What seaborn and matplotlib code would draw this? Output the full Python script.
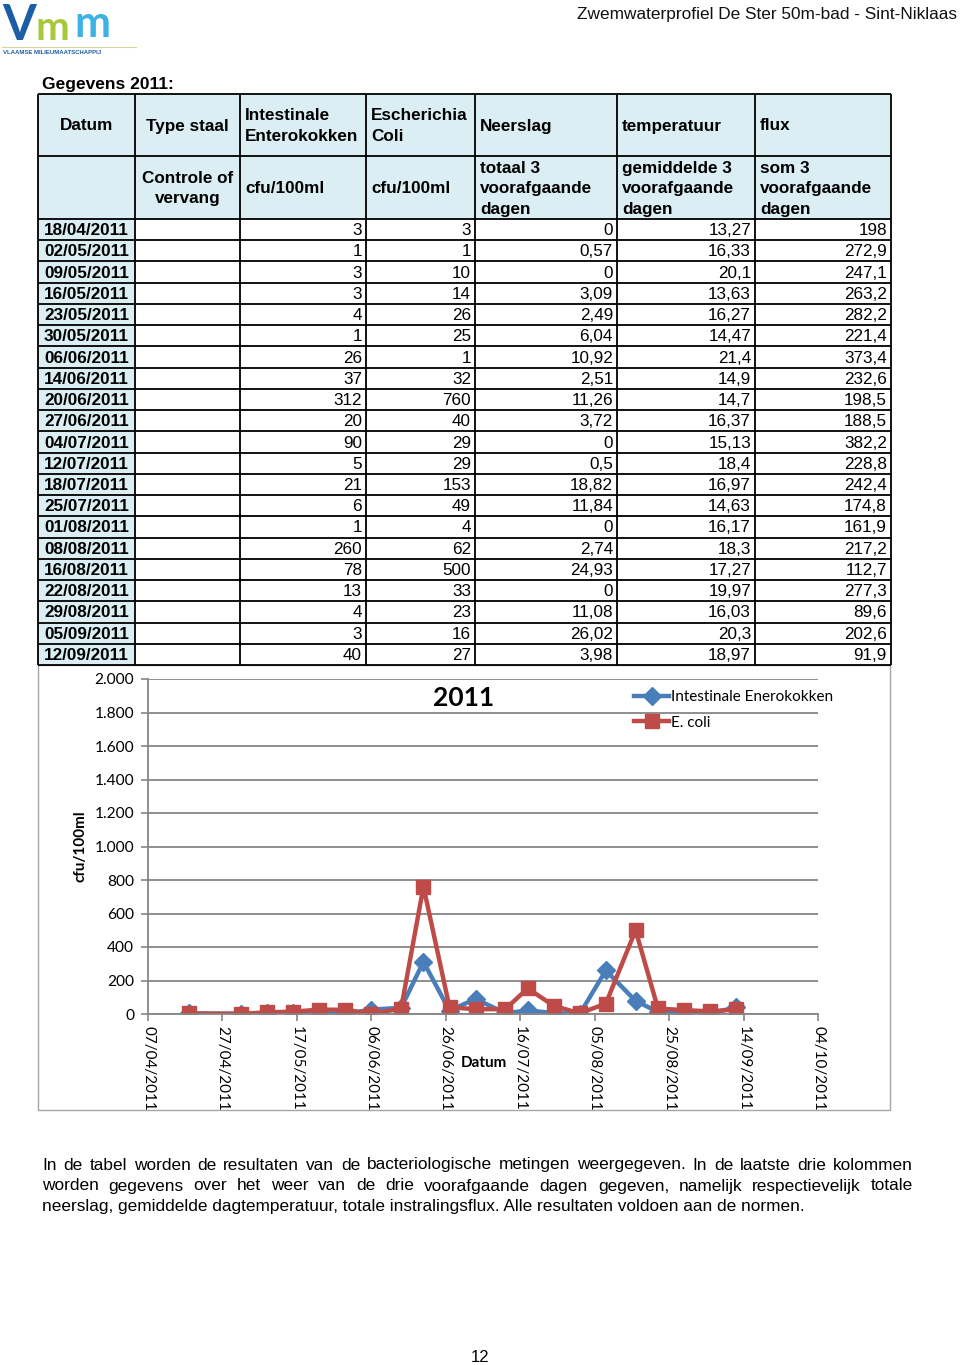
import matplotlib
matplotlib.use("Agg")
import matplotlib.pyplot as plt
import matplotlib.dates as mdates
from matplotlib.patches import Rectangle
import seaborn as sns
import pandas as pd

# ---- data ----
datums = ["18/04/2011", "02/05/2011", "09/05/2011", "16/05/2011", "23/05/2011",
          "30/05/2011", "06/06/2011", "14/06/2011", "20/06/2011", "27/06/2011",
          "04/07/2011", "12/07/2011", "18/07/2011", "25/07/2011", "01/08/2011",
          "08/08/2011", "16/08/2011", "22/08/2011", "29/08/2011", "05/09/2011",
          "12/09/2011"]
enterokokken = [3, 1, 3, 3, 4, 1, 26, 37, 312, 20, 90, 5, 21, 6, 1, 260, 78, 13, 4, 3, 40]
ecoli = [3, 1, 10, 14, 26, 25, 1, 32, 760, 40, 29, 29, 153, 49, 4, 62, 500, 33, 23, 16, 27]
neerslag = ["0", "0,57", "0", "3,09", "2,49", "6,04", "10,92", "2,51", "11,26", "3,72",
            "0", "0,5", "18,82", "11,84", "0", "2,74", "24,93", "0", "11,08", "26,02", "3,98"]
temperatuur = ["13,27", "16,33", "20,1", "13,63", "16,27", "14,47", "21,4", "14,9", "14,7",
               "16,37", "15,13", "18,4", "16,97", "14,63", "16,17", "18,3", "17,27",
               "19,97", "16,03", "20,3", "18,97"]
flux = ["198", "272,9", "247,1", "263,2", "282,2", "221,4", "373,4", "232,6", "198,5",
        "188,5", "382,2", "228,8", "242,4", "174,8", "161,9", "217,2", "112,7", "277,3",
        "89,6", "202,6", "91,9"]

header1 = ["Datum", "Type staal", "Intestinale\nEnterokokken", "Escherichia\nColi",
           "Neerslag", "temperatuur", "flux"]
header2 = ["", "Controle of\nvervang", "cfu/100ml", "cfu/100ml",
           "totaal 3\nvoorafgaande\ndagen", "gemiddelde 3\nvoorafgaande\ndagen",
           "som 3\nvoorafgaande\ndagen"]

ytick_vals = [0, 200, 400, 600, 800, 1000, 1200, 1400, 1600, 1800, 2000]
ytick_labels = ["0", "200", "400", "600", "800", "1.000", "1.200", "1.400", "1.600",
                "1.800", "2.000"]
serie_ie = "Intestinale Enerokokken"
serie_ec = "E. coli"

body = ["In de tabel worden de resultaten van de bacteriologische metingen weergegeven. In de laatste drie kolommen",
        "worden gegevens over het weer van de drie voorafgaande dagen gegeven, namelijk respectievelijk totale",
        "neerslag, gemiddelde dagtemperatuur, totale instralingsflux. Alle resultaten voldoen aan de normen."]

# ---- page ----
W, H = 960, 1365
fig = plt.figure(figsize=(W / 100, H / 100), dpi=100)
page = fig.add_axes([0, 0, 1, 1])
page.set_xlim(0, W)
page.set_ylim(H, 0)
page.axis("off")

arial = "Liberation Sans"
lato = "Lato"
lightblue = "#DAEEF3"

# logo
page.text(2, 40, "V", fontsize=35, color="#1B5EA6", fontweight="bold", family=lato, va="baseline")
page.text(36, 40, "m", fontsize=29, color="#A8C83C", fontweight="bold", family=lato, va="baseline")
page.text(74, 37, "m", fontsize=31, color="#3CB3E3", fontweight="bold", family=lato, va="baseline")
page.plot([2, 136], [47, 47], color="#D8D59A", lw=0.8)
page.text(3, 53, "VLAAMSE MILIEUMAATSCHAPPIJ", fontsize=4.3, color="#1B5EA6",
          fontweight="bold", family=arial, va="center")

page.text(957, 15, "Zwemwaterprofiel De Ster 50m-bad - Sint-Niklaas", fontsize=12.4,
          family=arial, ha="right", va="center", color="#111111")
page.text(42, 84, "Gegevens 2011:", fontsize=12.5, family=arial, fontweight="bold",
          va="center")

# ---- table ----
cols = [38, 135, 240, 366, 475, 617, 755, 891]
h1_top, h2_top, data_top, data_bot = 94, 156, 219, 665
row_h = (data_bot - data_top) / len(datums)
fs = 12.3

for i in range(7):
    x0, x1 = cols[i], cols[i + 1]
    page.add_patch(Rectangle((x0, h1_top), x1 - x0, data_top - h1_top,
                             facecolor=lightblue, edgecolor="none", zorder=0))
    for txt, top, bot in [(header1[i], h1_top, h2_top), (header2[i], h2_top, data_top)]:
        if not txt:
            continue
        centered = i < 2
        nlines = txt.count("\n") + 1
        yc = (top + bot) / 2 + 1 if nlines < 3 else top + 33
        page.text((x0 + x1) / 2 if centered else x0 + 5, yc, txt, fontsize=fs,
                  family=arial, fontweight="bold", ha="center" if centered else "left",
                  va="center", linespacing=1.42, multialignment="center" if centered else "left")

page.add_patch(Rectangle((cols[0], data_top), cols[1] - cols[0], data_bot - data_top,
                         facecolor=lightblue, edgecolor="none", zorder=0))

columns = [None, None, [str(v) for v in enterokokken], [str(v) for v in ecoli],
           neerslag, temperatuur, flux]
for r, d in enumerate(datums):
    yc = data_top + (r + 0.5) * row_h
    page.text((cols[0] + cols[1]) / 2, yc + 1, d, fontsize=fs, family=arial,
              fontweight="bold", ha="center", va="center")
    for c in range(2, 7):
        page.text(cols[c + 1] - 4, yc + 1, columns[c][r], fontsize=fs, family=arial,
                  ha="right", va="center")

lw_t = 1.3
for y in [h1_top, h2_top] + [data_top + k * row_h for k in range(len(datums) + 1)]:
    page.plot([cols[0], cols[-1]], [y, y], color="black", lw=lw_t, solid_capstyle="butt")
for x in cols:
    page.plot([x, x], [h1_top, data_bot], color="black", lw=lw_t, solid_capstyle="butt")

# chart frame
page.add_patch(Rectangle((38, 665), 852, 445, facecolor="none", edgecolor="#A6A6A6", lw=1.0))

# ---- chart ----
ax = fig.add_axes([148 / W, 1 - 1014 / H, (818 - 148) / W, (1014 - 679) / H])
ax.set_facecolor("none")
dates = pd.to_datetime(datums, format="%d/%m/%Y")
df = pd.DataFrame({"Datum": dates, "ie": enterokokken, "ec": ecoli})

sns.lineplot(data=df, x="Datum", y="ie", ax=ax, color="#4A7EBB", lw=3.2, marker="D",
             markersize=9, markeredgecolor="#4A7EBB", markeredgewidth=1, label=serie_ie)
sns.lineplot(data=df, x="Datum", y="ec", ax=ax, color="#BE4B48", lw=3.2, marker="s",
             markersize=9.5, markeredgecolor="#BE4B48", markeredgewidth=1, label=serie_ec)

ax.set_ylim(0, 2000)
ax.set_xlim(pd.Timestamp("2011-04-07"), pd.Timestamp("2011-10-04"))
ax.set_xticks(pd.date_range("2011-04-07", "2011-10-04", freq="20D"))
ax.xaxis.set_major_formatter(mdates.DateFormatter("%d/%m/%Y"))
ax.set_yticks(ytick_vals)
ax.set_yticklabels(ytick_labels)
for lab in ax.get_yticklabels():
    lab.set_family(lato)
    lab.set_fontsize(11.2)
for lab in ax.get_xticklabels():
    lab.set_family(lato)
    lab.set_fontsize(11)
    lab.set_rotation(-90)
    lab.set_va("top")
    lab.set_ha("center")
ax.tick_params(axis="x", length=5, color="#868686", width=1.2, pad=4)
ax.tick_params(axis="y", length=5, color="#868686", width=1.2, pad=5)
ax.grid(axis="y", color="#868686", lw=1.3)
ax.set_axisbelow(True)
for s in ["top", "right"]:
    ax.spines[s].set_visible(False)
for s in ["left", "bottom"]:
    ax.spines[s].set_color("#868686")
    ax.spines[s].set_linewidth(1.3)
ax.set_xlabel("")
ax.set_ylabel("")

leg = ax.legend(loc="upper left", bbox_to_anchor=(628 / W, 1 - 684 / H),
                bbox_transform=fig.transFigure, frameon=False, handlelength=2.3,
                handletextpad=0.1, labelspacing=0.75, borderaxespad=0,
                prop={"family": lato, "size": 11})

fig.text(464 / W, 1 - 698 / H, "2011", fontsize=19, family=lato, fontweight="bold",
         ha="center", va="center")
fig.text(80 / W, 1 - 846 / H, "cfu/100ml", fontsize=11, family=lato, fontweight="bold",
         rotation=90, ha="center", va="center")
fig.text(484 / W, 1 - 1063 / H, "Datum", fontsize=11, family=lato, fontweight="bold",
         ha="center", va="center")

# ---- body text (justified) ----
renderer = fig.canvas.get_renderer()
x_left, x_right = 42, 913
for k, line in enumerate(body):
    y = 1165 + k * 21
    if k == len(body) - 1:
        page.text(x_left, y, line, fontsize=12.4, family=arial, va="center")
        continue
    words = line.split()
    texts = [page.text(0, y, w, fontsize=12.4, family=arial, va="center") for w in words]
    widths = [t.get_window_extent(renderer).width for t in texts]
    gap = (x_right - x_left - sum(widths)) / (len(words) - 1)
    x = x_left
    for t, w in zip(texts, widths):
        t.set_x(x)
        x += w + gap

page.text(480, 1358, "12", fontsize=12, family=arial, ha="center", va="center")

fig.savefig("out.png", dpi=100)
